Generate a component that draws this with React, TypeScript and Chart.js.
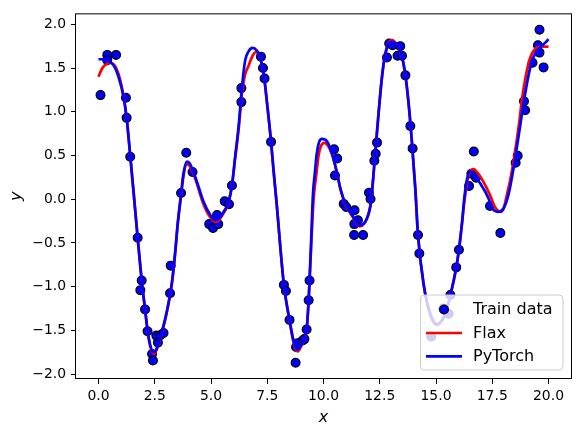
import React, { useEffect, useRef } from "react";
import { Chart, registerables } from "chart.js";

Chart.register(...registerables);

// ---- data ----
const trainX = [
  0.09, 0.39, 0.39, 0.78, 1.22, 1.25, 1.41, 1.74, 1.92, 1.86, 2.07, 2.18, 2.38, 2.42, 2.64, 2.57, 2.75, 2.89,
  3.18, 3.21, 3.67, 3.9, 4.18, 4.92, 5.09, 5.27, 5.32, 5.61, 5.8, 5.93, 6.35, 6.35, 7.22, 7.31, 7.38, 7.67,
  8.24, 8.33, 8.49, 8.78, 8.85, 8.76, 9.07, 9.15, 9.25, 9.34, 9.38, 10.47, 10.61, 10.51, 10.9, 11.01, 11.38,
  11.53, 11.37, 11.36, 11.76, 12.02, 12.09, 12.26, 12.32, 12.38, 12.82, 12.92, 13.07, 13.41, 13.29, 13.49,
  13.64, 13.86, 13.96, 14.2, 14.26, 14.79, 15.32, 15.56, 15.64, 15.9, 16.02, 16.47, 16.57, 16.68, 16.78,
  17.4, 17.86, 18.54, 18.63, 18.91, 18.96, 19.29, 19.53, 19.6, 19.6, 19.78,
];
const trainY = [
  1.19, 1.65, 1.59, 1.65, 1.16, 0.93, 0.485, -0.44, -0.93, -1.04, -1.26, -1.51, -1.77, -1.845, -1.64, -1.56,
  -1.555, -1.53, -1.075, -0.76, 0.07, 0.53, 0.31, -0.285, -0.33, -0.18, -0.285, -0.024, -0.058, 0.157, 1.27,
  1.11, 1.63, 1.5, 1.38, 0.655, -0.98, -1.05, -1.38, -1.69, -1.646, -1.87, -1.615, -1.6, -1.49, -1.155, -0.93,
  0.57, 0.466, 0.27, -0.054, -0.09, -0.126, -0.24, -0.285, -0.41, -0.41, 0.074, 0.002, 0.44, 0.52, 0.647,
  1.62, 1.78, 1.76, 1.75, 1.64, 1.64, 1.416, 0.836, 0.58, -0.41, -0.62, -1.57, -1.25, -1.31, -1.095, -0.78,
  -0.578, 0.15, 0.29, 0.545, 0.245, -0.077, -0.386, 0.417, 0.497, 1.12, 1.017, 1.56, 1.76, 1.676, 1.937, 1.507,
];

const flaxX = [
  0, 0.16, 0.38, 0.52, 0.67, 0.82, 0.97, 1.12, 1.25, 1.41, 1.58, 1.74, 1.92, 2.07, 2.18, 2.3, 2.47, 2.6, 2.75,
  3.04, 3.27, 3.41, 3.52, 3.67, 3.78, 3.93, 4.05, 4.16, 4.38, 4.67, 4.97, 5.19, 5.35, 5.56, 5.78, 5.93, 6.08,
  6.23, 6.36, 6.51, 6.66, 6.85, 6.98, 7.12, 7.34, 7.49, 7.67, 7.78, 7.9, 8.24, 8.49, 8.67, 8.85, 9.04, 9.25,
  9.34, 9.38, 9.47, 9.56, 9.68, 9.78, 9.89, 10.04, 10.2, 10.38, 10.6, 10.75, 10.97, 11.27, 11.6, 11.93, 12.11,
  12.3, 12.45, 12.6, 12.75, 12.9, 13.05, 13.27, 13.49, 13.64, 13.78, 13.93, 14.08, 14.2, 14.45, 14.75, 15.06,
  15.41, 15.64, 15.9, 16.02, 16.16, 16.25, 16.4, 16.5, 16.67, 16.85, 17.04, 17.41, 17.6, 17.86, 18.0, 18.16,
  18.3, 18.5, 18.7, 18.82, 19.0, 19.19, 19.41, 19.64, 20,
];
const flaxY = [
  1.4, 1.495, 1.55, 1.56, 1.545, 1.48, 1.36, 1.17, 0.93, 0.5, 0.02, -0.44, -0.93, -1.26, -1.5, -1.68, -1.77,
  -1.71, -1.59, -1.29, -0.95, -0.61, -0.29, 0.04, 0.27, 0.4, 0.38, 0.33, 0.17, -0.06, -0.21, -0.26, -0.24,
  -0.16, -0.04, 0.15, 0.48, 0.8, 1.18, 1.42, 1.52, 1.64, 1.68, 1.655, 1.43, 1.1, 0.655, 0.33, 0.0, -0.98,
  -1.39, -1.64, -1.74, -1.66, -1.49, -1.155, -0.93, -0.45, 0.0, 0.28, 0.5, 0.61, 0.645, 0.61, 0.51, 0.3, 0.12,
  -0.06, -0.19, -0.31, -0.22, -0.03, 0.53, 0.99, 1.4, 1.67, 1.79, 1.82, 1.76, 1.62, 1.41, 1.1, 0.65, 0.12,
  -0.41, -0.98, -1.33, -1.44, -1.31, -1.1, -0.78, -0.578, -0.27, -0.05, 0.22, 0.31, 0.345, 0.3, 0.23, 0.044,
  -0.08, -0.145, -0.11, 0.06, 0.22, 0.52, 0.88, 1.14, 1.42, 1.62, 1.72, 1.745, 1.745,
];

const torchX = [
  0, 0.25, 0.45, 0.67, 0.9, 1.12, 1.25, 1.41, 1.58, 1.74, 1.92, 2.07, 2.18, 2.3, 2.45, 2.6, 2.75, 3.04, 3.27,
  3.41, 3.52, 3.67, 3.78, 3.93, 4.05, 4.16, 4.38, 4.67, 4.97, 5.19, 5.35, 5.56, 5.78, 5.93, 6.08, 6.23, 6.38,
  6.52, 6.67, 6.85, 7.04, 7.12, 7.34, 7.49, 7.67, 7.78, 7.9, 8.24, 8.49, 8.67, 8.85, 9.04, 9.25, 9.34, 9.38,
  9.46, 9.53, 9.62, 9.7, 9.8, 9.93, 10.16, 10.38, 10.6, 10.75, 10.97, 11.27, 11.6, 11.93, 12.11, 12.3, 12.45,
  12.6, 12.75, 12.9, 13.02, 13.27, 13.49, 13.64, 13.78, 13.93, 14.08, 14.2, 14.45, 14.75, 15.04, 15.41, 15.64,
  15.9, 16.02, 16.16, 16.24, 16.35, 16.52, 16.75, 16.97, 17.34, 17.49, 17.76, 18.0, 18.23, 18.45, 18.67,
  18.92, 19.14, 19.34, 19.64, 19.86, 20,
];
const torchY = [
  1.6, 1.6, 1.575, 1.53, 1.39, 1.16, 0.93, 0.5, 0.02, -0.44, -0.93, -1.26, -1.5, -1.67, -1.75, -1.7, -1.58,
  -1.28, -0.94, -0.6, -0.28, 0.06, 0.3, 0.43, 0.41, 0.35, 0.195, -0.03, -0.18, -0.24, -0.22, -0.145, -0.03,
  0.157, 0.5, 0.84, 1.29, 1.59, 1.69, 1.73, 1.7, 1.665, 1.44, 1.1, 0.655, 0.33, 0.0, -0.98, -1.38, -1.62,
  -1.72, -1.65, -1.49, -1.155, -0.93, -0.41, 0.05, 0.31, 0.52, 0.65, 0.69, 0.66, 0.52, 0.3, 0.12, -0.05,
  -0.18, -0.3, -0.22, -0.03, 0.53, 0.99, 1.4, 1.665, 1.78, 1.8, 1.76, 1.63, 1.42, 1.1, 0.65, 0.12, -0.41,
  -0.97, -1.31, -1.43, -1.31, -1.095, -0.78, -0.578, -0.26, -0.03, 0.195, 0.315, 0.25, 0.18, 0.006, -0.1,
  -0.145, -0.107, 0.06, 0.36, 0.72, 1.14, 1.45, 1.63, 1.74, 1.79, 1.83,
];

const xTicks = [0, 2.5, 5, 7.5, 10, 12.5, 15, 17.5, 20];
const yTicks = [-2, -1.5, -1, -0.5, 0, 0.5, 1, 1.5, 2];
const legendLabels = ["Train data", "Flax", "PyTorch"];
const xTitle = "x";
const yTitle = "y";

const FONT = "'DejaVu Sans', 'Liberation Sans', sans-serif";
const LINE_W = 2.7;
const fmt = (v: number) => (v < 0 ? "\u2212" : "") + Math.abs(v).toFixed(1);

const framePlugin = {
  id: "mplFrame",
  afterDatasetsDraw(chart: any) {
    const { ctx, chartArea: ca } = chart;
    ctx.save();
    ctx.strokeStyle = "#000";
    ctx.lineWidth = 1;
    ctx.strokeRect(ca.left - 0.5, ca.top + 0.5, ca.right - ca.left + 1, ca.bottom - ca.top - 1);
    ctx.restore();
  },
};

const legendPlugin = {
  id: "mplLegend",
  afterDraw(chart: any) {
    const { ctx, chartArea: ca } = chart;
    const w = 142.5;
    const h = 75;
    const x0 = ca.right - 8 - w;
    const y0 = ca.bottom - 9 - h;
    const r = 4;
    ctx.save();
    ctx.beginPath();
    ctx.moveTo(x0 + r, y0);
    ctx.lineTo(x0 + w - r, y0);
    ctx.quadraticCurveTo(x0 + w, y0, x0 + w, y0 + r);
    ctx.lineTo(x0 + w, y0 + h - r);
    ctx.quadraticCurveTo(x0 + w, y0 + h, x0 + w - r, y0 + h);
    ctx.lineTo(x0 + r, y0 + h);
    ctx.quadraticCurveTo(x0, y0 + h, x0, y0 + h - r);
    ctx.lineTo(x0, y0 + r);
    ctx.quadraticCurveTo(x0, y0, x0 + r, y0);
    ctx.closePath();
    ctx.fillStyle = "rgba(255,255,255,0.8)";
    ctx.fill();
    ctx.strokeStyle = "rgb(204,204,204)";
    ctx.lineWidth = 1;
    ctx.stroke();

    const hx0 = x0 + 5.5;
    const hx1 = x0 + 41.5;
    const tx = x0 + 52.5;
    const rows = [y0 + 14.5, y0 + 38, y0 + 61.3];

    ctx.beginPath();
    ctx.arc((hx0 + hx1) / 2, rows[0], 4.4, 0, Math.PI * 2);
    ctx.fillStyle = "#0000ff";
    ctx.fill();
    ctx.strokeStyle = "#000";
    ctx.lineWidth = 1.2;
    ctx.stroke();

    ctx.lineWidth = LINE_W;
    ctx.strokeStyle = "#ff0000";
    ctx.beginPath();
    ctx.moveTo(hx0, rows[1]);
    ctx.lineTo(hx1, rows[1]);
    ctx.stroke();
    ctx.strokeStyle = "#0000ff";
    ctx.beginPath();
    ctx.moveTo(hx0, rows[2]);
    ctx.lineTo(hx1, rows[2]);
    ctx.stroke();

    ctx.fillStyle = "#000";
    ctx.font = `16px ${FONT}`;
    ctx.textBaseline = "middle";
    ctx.textAlign = "left";
    legendLabels.forEach((t, i) => ctx.fillText(t, tx, rows[i] + 0.5));
    ctx.restore();
  },
};

export default function App() {
  const ref = useRef<HTMLCanvasElement | null>(null);

  useEffect(() => {
    if (!ref.current) return;
    const pts = (xs: number[], ys: number[]) => xs.map((x, i) => ({ x, y: ys[i] }));
    const chart = new Chart(ref.current, {
      type: "scatter",
      data: {
        datasets: [
          {
            label: legendLabels[0],
            data: pts(trainX, trainY),
            backgroundColor: "#0000ff",
            borderColor: "#000000",
            borderWidth: 1.2,
            pointRadius: 4.4,
            pointHoverRadius: 4.4,
            showLine: false,
            order: 3,
          },
          {
            label: legendLabels[1],
            data: pts(flaxX, flaxY),
            borderColor: "#ff0000",
            backgroundColor: "#ff0000",
            borderWidth: LINE_W,
            pointRadius: 0,
            showLine: true,
            cubicInterpolationMode: "monotone",
            order: 2,
          },
          {
            label: legendLabels[2],
            data: pts(torchX, torchY),
            borderColor: "#0000ff",
            backgroundColor: "#0000ff",
            borderWidth: LINE_W,
            pointRadius: 0,
            showLine: true,
            cubicInterpolationMode: "monotone",
            order: 1,
          },
        ],
      },
      options: {
        responsive: false,
        animation: false,
        devicePixelRatio: 1,
        layout: { padding: { left: 0, right: 10, top: 9, bottom: 0 } },
        plugins: { legend: { display: false }, tooltip: { enabled: false } },
        scales: {
          x: {
            type: "linear",
            min: -1,
            max: 21,
            afterBuildTicks: (axis: any) => {
              axis.ticks = xTicks.map((v) => ({ value: v }));
            },
            afterFit: (axis: any) => {
              axis.height = 54;
            },
            grid: { drawOnChartArea: false, drawTicks: true, tickLength: 5, tickColor: "#000", lineWidth: 1 },
            border: { display: false },
            ticks: {
              padding: 4,
              color: "#000",
              font: { family: FONT, size: 13.9 },
              maxRotation: 0,
              autoSkip: false,
              callback: (v: any) => fmt(Number(v)),
            },
            title: {
              display: true,
              text: xTitle,
              color: "#000",
              font: { family: FONT, size: 16, style: "italic" },
              padding: { top: 0, bottom: 6 },
            },
          },
          y: {
            type: "linear",
            min: -2.056,
            max: 2.125,
            afterBuildTicks: (axis: any) => {
              axis.ticks = yTicks.map((v) => ({ value: v }));
            },
            afterFit: (axis: any) => {
              axis.width = 76;
            },
            grid: { drawOnChartArea: false, drawTicks: true, tickLength: 5, tickColor: "#000", lineWidth: 1 },
            border: { display: false },
            ticks: {
              padding: 5,
              color: "#000",
              font: { family: FONT, size: 13.9 },
              autoSkip: false,
              callback: (v: any) => fmt(Number(v)),
            },
            title: {
              display: true,
              text: yTitle,
              color: "#000",
              font: { family: FONT, size: 16, style: "italic" },
              padding: { top: 7, bottom: 0 },
            },
          },
        },
      },
      plugins: [framePlugin, legendPlugin],
    } as any);
    return () => chart.destroy();
  }, []);

  return (
    <div style={{ position: "absolute", left: 0, top: 0, width: 581, height: 433, background: "#fff" }}>
      <canvas ref={ref} width={581} height={433} style={{ display: "block", width: 581, height: 433 }} />
    </div>
  );
}
